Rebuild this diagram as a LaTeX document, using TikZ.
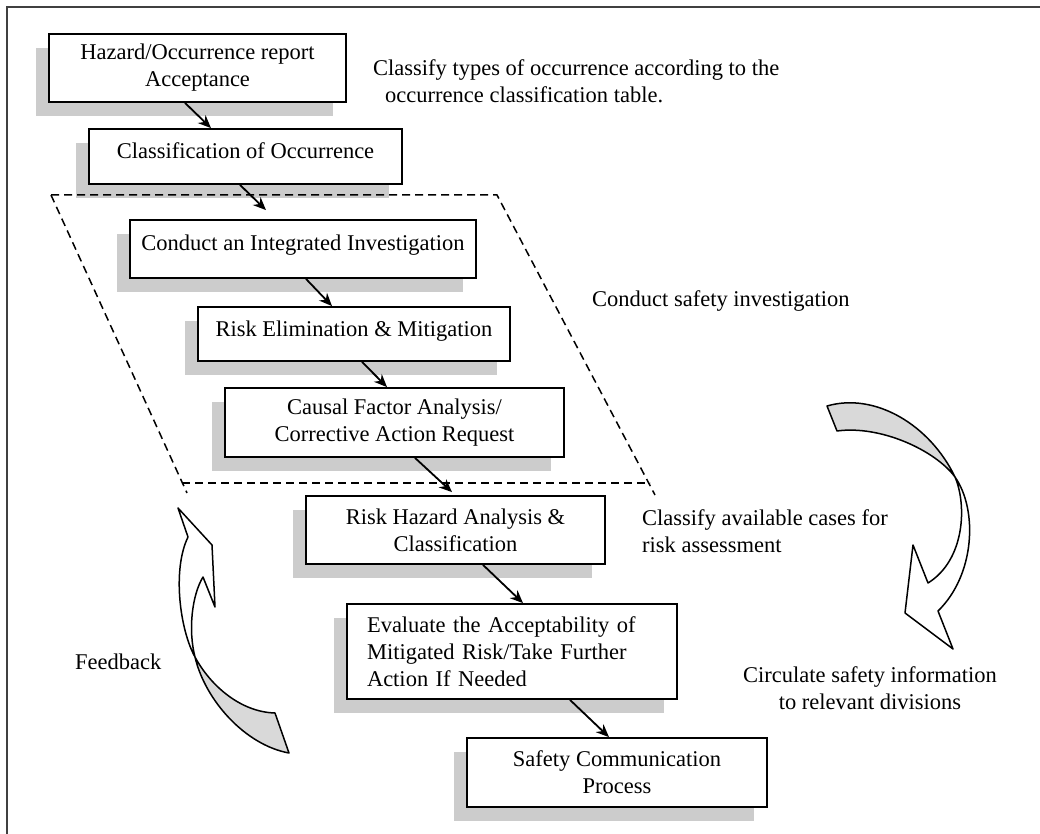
\documentclass[tikz,border=0pt]{standalone}
\usepackage{fontspec}
\setmainfont{Liberation Serif}
\usetikzlibrary{shadows,arrows.meta}

\begin{document}
\begin{tikzpicture}[x=1pt,y=-1pt,
  font=\fontsize{22.5}{27}\selectfont,
  stepbox/.style={draw, line width=1.8pt, fill=white, inner sep=0pt, align=center,
    drop shadow={shadow xshift=-13pt, shadow yshift=-14pt, fill=black!20, opacity=1}},
  onerow/.style={text height=16pt, text depth=12pt},
  flow/.style={line width=1.8pt, -{Stealth[length=13pt,width=11pt]}},
  note/.style={inner sep=0pt, align=left, anchor=west},
  backface/.style={draw, line width=1.5pt, fill=black!15, line join=round},
  frontface/.style={draw, line width=1.5pt, fill=white, line join=round},
  cage/.style={line width=1.5pt, dash pattern=on 8pt off 5pt}
]
\useasboundingbox (0,0) rectangle (1040,834);

% page frame
\draw[line width=2pt, black!75] (1045,7) -- (7,7) -- (7,840);

% process steps
\node[stepbox, minimum width=297pt, minimum height=68pt] (b1) at (197.5,68)
  {Hazard/Occurrence report\\Acceptance};
\node[stepbox, onerow, minimum width=313pt, minimum height=55pt] (b2) at (245.5,156.5)
  {Classification of Occurrence};
\node[stepbox, onerow, minimum width=346pt, minimum height=58pt] (b3) at (303,249)
  {Conduct an Integrated Investigation};
\node[stepbox, onerow, minimum width=312pt, minimum height=54pt] (b4) at (354,334)
  {Risk Elimination \& Mitigation};
\node[stepbox, minimum width=339pt, minimum height=69pt] (b5) at (394.5,422.5)
  {Causal Factor Analysis/\\Corrective Action Request};
\node[stepbox, minimum width=299pt, minimum height=68pt] (b6) at (455.5,530)
  {Risk Hazard Analysis \&\\Classification};
\node[stepbox, align=left, text width=290pt, inner xsep=20pt, minimum height=95pt] (b7) at (512,651.5)
  {Evaluate the Acceptability of\\Mitigated Risk/Take Further\\Action If Needed};
\node[stepbox, minimum width=300pt, minimum height=69pt] (b8) at (617,772.5)
  {Safety Communication\\Process};

% investigation stage outline
\draw[cage] (51,195) -- (497,195) -- (655,495);
\draw[cage] (51,195) -- (187,493);
\draw[cage] (182,483) -- (650,483);

% flow between steps
\draw[flow] ([xshift=-12.5pt]b1.south) -- ([xshift=-34.5pt]b2.north);
\draw[flow] ([xshift=-5.5pt]b2.south) -- ([xshift=-37pt,yshift=9pt]b3.north);
\draw[flow] ([xshift=3pt]b3.south) -- ([xshift=-22pt]b4.north);
\draw[flow] ([xshift=8pt]b4.south) -- ([xshift=-7.5pt]b5.north);
\draw[flow] ([xshift=20.5pt]b5.south) -- ([xshift=-3.5pt,yshift=3pt]b6.north);
\draw[flow] ([xshift=27.5pt]b6.south) -- ([xshift=11pt]b7.north);
\draw[flow] ([xshift=58pt]b7.south) -- ([xshift=-8pt]b8.north);

% side notes
\node[note] (t1) at (373,81)
  {Classify types of occurrence according to the\\\hspace*{12pt}occurrence classification table.};
\node[note] (t2) at (592,301) {Conduct safety investigation};
\node[note] (t3) at (642,531) {Classify available cases for\\risk assessment};
\node[note] (t4) at (75,662) {Feedback};
\node[inner sep=0pt, align=center] (t5) at (870,688)
  {Circulate safety information\\to relevant divisions};

% curved arrow: circulation (downwards, right side)
\path[backface] (827,406) .. controls (875,392) and (930,425) .. (955,477)
  .. controls (935,450) and (880,425) .. (837,431) -- cycle;
\path[frontface] (955,477) .. controls (967,505) and (965,560) .. (928,583)
  -- (913,545) -- (905,613) -- (953,649) -- (938,611)
  .. controls (975,575) and (978,510) .. (955,477) -- cycle;

% curved arrow: feedback (upwards, left side)
\path[backface] (195,657) .. controls (210,685) and (240,712) .. (275,713)
  -- (289,753) .. controls (245,745) and (205,700) .. (195,657) -- cycle;
\path[frontface] (195,657) .. controls (180,630) and (172,570) .. (188,537)
  -- (178,508) -- (212,545) -- (215,607) -- (203,577)
  .. controls (192,595) and (188,630) .. (195,657) -- cycle;
\end{tikzpicture}
\end{document}
